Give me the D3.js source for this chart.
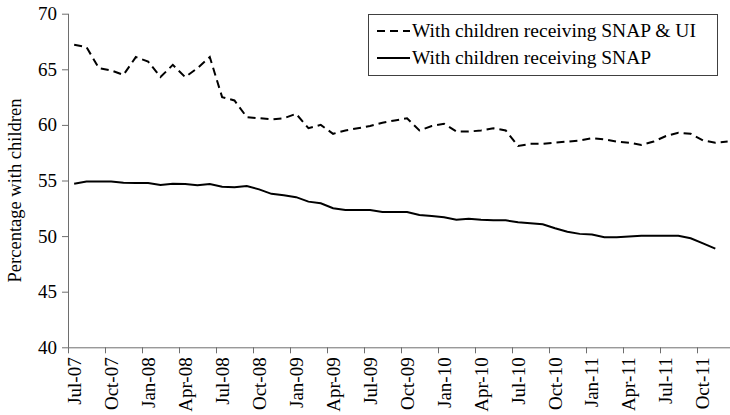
<!DOCTYPE html>
<html>
<head>
<meta charset="utf-8">
<script src="https://cdn.jsdelivr.net/npm/d3@7"></script>
<style>
  html, body { margin: 0; padding: 0; background: #fff; }
  svg text { font-family: 'Liberation Serif', 'Times New Roman', serif; }
</style>
</head>
<body>
<svg id="chart" width="730" height="415"></svg>
<script>
// Monthly categories on the horizontal axis
const months = [
  "Jul-07","Aug-07","Sep-07","Oct-07","Nov-07","Dec-07",
  "Jan-08","Feb-08","Mar-08","Apr-08","May-08","Jun-08",
  "Jul-08","Aug-08","Sep-08","Oct-08","Nov-08","Dec-08",
  "Jan-09","Feb-09","Mar-09","Apr-09","May-09","Jun-09",
  "Jul-09","Aug-09","Sep-09","Oct-09","Nov-09","Dec-09",
  "Jan-10","Feb-10","Mar-10","Apr-10","May-10","Jun-10",
  "Jul-10","Aug-10","Sep-10","Oct-10","Nov-10","Dec-10",
  "Jan-11","Feb-11","Mar-11","Apr-11","May-11","Jun-11",
  "Jul-11","Aug-11","Sep-11","Oct-11","Nov-11","Dec-11"
];

// Labelled months (one per quarter)
const tickLabels = [
  "Jul-07","Oct-07","Jan-08","Apr-08","Jul-08","Oct-08",
  "Jan-09","Apr-09","Jul-09","Oct-09","Jan-10","Apr-10",
  "Jul-10","Oct-10","Jan-11","Apr-11","Jul-11","Oct-11"
];

const yTicks = [40, 45, 50, 55, 60, 65, 70];

// Percentage with children, households receiving SNAP & UI
const snapUI = [
  67.2, 67.0, 65.1, 64.9, 64.5, 66.1,
  65.7, 64.3, 65.4, 64.3, 65.1, 66.1,
  62.5, 62.2, 60.7, 60.6, 60.5, 60.6,
  61.0, 59.7, 60.0, 59.2, 59.5, 59.7,
  59.9, 60.2, 60.4, 60.6, 59.5, 59.9,
  60.1, 59.4, 59.4, 59.5, 59.7, 59.5,
  58.1, 58.3, 58.3, 58.4, 58.5, 58.6,
  58.8, 58.7, 58.5, 58.4, 58.2, 58.5,
  59.0, 59.3, 59.2, 58.6, 58.4, 58.5
];

// Percentage with children, households receiving SNAP
const snap = [
  54.7, 54.9, 54.9, 54.9, 54.8, 54.77,
  54.77, 54.6, 54.7, 54.68, 54.57, 54.68,
  54.44, 54.39, 54.5, 54.2, 53.8, 53.67,
  53.5, 53.1, 52.95, 52.5, 52.35, 52.35,
  52.35, 52.17, 52.17, 52.17, 51.9, 51.8,
  51.7, 51.47, 51.56, 51.47, 51.42, 51.42,
  51.24, 51.15, 51.06, 50.7, 50.4, 50.2,
  50.15, 49.9, 49.9, 49.97, 50.04, 50.04,
  50.04, 50.04, 49.8, 49.35, 48.87
];

const legendLabels = ["With children receiving SNAP & UI", "With children receiving SNAP"];

const serif = "'Liberation Serif', 'Times New Roman', serif";
const svg = d3.select("#chart");
const axisColor = "#6e6e6e";
const plotLeft = 68, plotTop = 13.7, plotBottom = 347.3;
const step = 12.33;

const x = d3.scaleBand()
  .domain(months)
  .range([plotLeft, plotLeft + months.length * step])
  .paddingInner(0).paddingOuter(0);

const y = d3.scaleLinear()
  .domain([40, 70])
  .range([plotBottom, plotTop]);

const cx = m => x(m) + x.bandwidth() / 2;

// Y axis
const yAxis = svg.append("g")
  .attr("transform", `translate(${plotLeft},0)`)
  .call(d3.axisLeft(y).tickValues(yTicks).tickSize(6).tickPadding(5).tickFormat(d3.format("d")))
  .attr("font-family", serif)
  .attr("font-size", 19);
yAxis.select(".domain").attr("stroke", axisColor).attr("d", `M0.5,${plotTop}V${plotBottom}`);
yAxis.selectAll(".tick line").attr("stroke", axisColor);
yAxis.selectAll(".tick text").attr("fill", "#000");

// X axis: line, quarter tick marks at category boundaries, labels at category centres
const xAxis = svg.append("g")
  .attr("font-family", serif)
  .attr("font-size", 19);
xAxis.append("line")
  .attr("x1", plotLeft).attr("x2", x.range()[1])
  .attr("y1", plotBottom + 0.5).attr("y2", plotBottom + 0.5)
  .attr("stroke", axisColor);
xAxis.selectAll("line.tick")
  .data(tickLabels)
  .join("line")
  .attr("class", "tick")
  .attr("x1", d => Math.round(x(d)) + 0.5).attr("x2", d => Math.round(x(d)) + 0.5)
  .attr("y1", plotBottom).attr("y2", plotBottom + 6)
  .attr("stroke", axisColor);
xAxis.selectAll("text")
  .data(tickLabels)
  .join("text")
  .attr("transform", d => `translate(${cx(d)},${plotBottom + 10}) rotate(-90)`)
  .attr("text-anchor", "end")
  .attr("dy", "0.34em")
  .attr("fill", "#000")
  .text(d => d);

// Y axis title
svg.append("text")
  .attr("transform", `translate(15,${(plotTop + plotBottom) / 2 + 10}) rotate(-90)`)
  .attr("text-anchor", "middle")
  .attr("dy", "0.35em")
  .attr("font-family", serif)
  .attr("font-size", 18.5)
  .attr("fill", "#000")
  .text("Percentage with children");

// Series lines
const line = d3.line()
  .x((d, i) => cx(months[i]))
  .y(d => y(d));

svg.append("path")
  .datum(snapUI)
  .attr("fill", "none")
  .attr("stroke", "#000")
  .attr("stroke-width", 2)
  .attr("stroke-dasharray", "8,5")
  .attr("d", line);

svg.append("path")
  .datum(snap)
  .attr("fill", "none")
  .attr("stroke", "#000")
  .attr("stroke-width", 2)
  .attr("d", line);

// Legend
const lg = svg.append("g")
  .attr("font-family", serif)
  .attr("font-size", 19.5);
lg.append("rect")
  .attr("x", 368.5).attr("y", 14.5)
  .attr("width", 349).attr("height", 61)
  .attr("fill", "#fff")
  .attr("stroke", "#404040");
const rows = [
  { label: legendLabels[0], dash: "8,5", y: 31 },
  { label: legendLabels[1], dash: null, y: 58 }
];
rows.forEach(r => {
  lg.append("line")
    .attr("x1", 377).attr("x2", 410)
    .attr("y1", r.y).attr("y2", r.y)
    .attr("stroke", "#000").attr("stroke-width", 2)
    .attr("stroke-dasharray", r.dash);
  lg.append("text")
    .attr("x", 412).attr("y", r.y)
    .attr("dy", "0.33em")
    .attr("fill", "#000")
    .text(r.label);
});
</script>
</body>
</html>
